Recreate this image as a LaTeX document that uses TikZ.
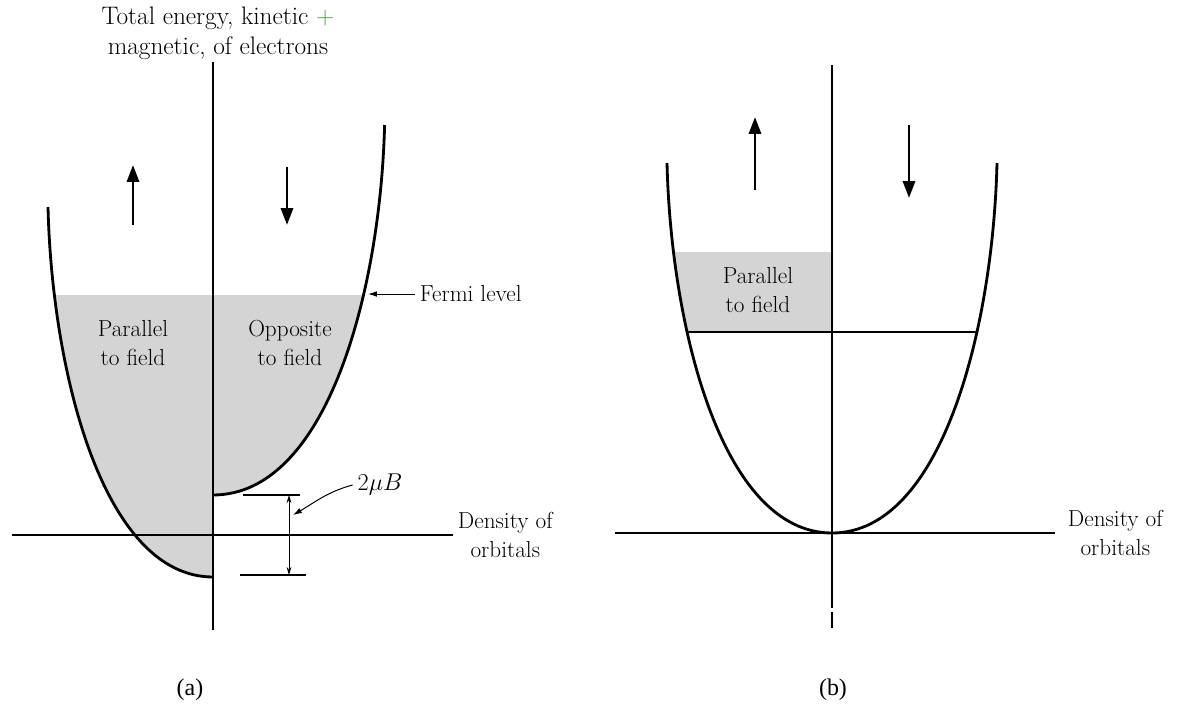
\documentclass[tikz,border=0pt]{standalone}
\usepackage{fontspec}
\newfontfamily\capfont{Liberation Serif}
\usepackage{xcolor}
\usepackage{tikz}
\usetikzlibrary{arrows.meta,positioning}
\definecolor{plusgreen}{RGB}{70,160,60}
% half of a band: (density, energy above the band bottom)
\newcommand{\bandpath}{(0,0) .. controls (110,0) and (161,205) .. (165,370)}

\begin{document}
\begin{tikzpicture}[
  x=0.025cm, y=-0.025cm,
  font=\fontsize{16.5}{20.5}\selectfont,
  axis/.style={line width=0.9pt},
  band/.style={line width=2pt},
  sea/.style={fill=black!17},
  spin/.style={line width=2pt,-{Triangle[length=0.42cm,width=0.3cm]}},
  tip/.style={line width=0.7pt,-{Latex[length=0.22cm,width=0.14cm]}},
  gap/.style={line width=0.7pt,{Stealth[length=0.2cm,width=0.12cm]}-{Stealth[length=0.2cm,width=0.12cm]}},
  lbl/.style={align=center}
]
\useasboundingbox (0,0) rectangle (1204,708);

% ---------- (a) ----------
\begin{scope}[shift={(213,577)},xscale=-1,yscale=-1]
  \begin{scope}
    \clip \bandpath -- (0,370) -- cycle;
    \fill[sea] (0,0) rectangle (200,282);
  \end{scope}
\end{scope}
\begin{scope}[shift={(213,495)},xscale=1.04,yscale=-1]
  \begin{scope}
    \clip \bandpath -- (0,370) -- cycle;
    \fill[sea] (0,0) rectangle (200,200);
  \end{scope}
\end{scope}

\coordinate (aTop) at (213,62);
\coordinate (aBot) at (213,630);
\coordinate (aLeft) at (12,535);
\coordinate (aRight) at (453,535);
\draw[axis] (aTop) -- (aBot);
\draw[axis] (aLeft) -- (aRight);

\begin{scope}[shift={(213,577)},xscale=-1,yscale=-1]
  \draw[band] \bandpath;
\end{scope}
\begin{scope}[shift={(213,495)},xscale=1.04,yscale=-1]
  \draw[band] \bandpath;
\end{scope}

\node[lbl,font=\fontsize{18}{21.3}\selectfont] (title) at (218,33)
  {Total energy, kinetic \textcolor{plusgreen}{+}\\magnetic, of electrons};

\draw[spin] (133,225) -- (133,165);
\draw[spin] (287,167) -- (287,225);

\node[lbl] (parA) at (133,343) {Parallel\\to field};
\node[lbl] (oppA) at (290,343) {Opposite\\to field};

\node[anchor=west] (fermi) at (415,294) {Fermi level};
\coordinate (fermiA) at (368,294);
\draw[tip] (fermi) -- (fermiA);

% spin splitting
\coordinate (gapTop) at (289,495);
\coordinate (gapBot) at (289,575);
\draw[axis] (243,495) -- (300,495);
\draw[axis] (240,575) -- (306,575);
\draw[gap] (gapTop) -- (gapBot);
\node (mub) at (380,485) {$2\mu B$};
\coordinate (mubTip) at (293,515);
\draw[tip] (mub.west) to[out=195,in=30] (mubTip);

\node[lbl,anchor=west] (dosA) at (aRight) {Density of\\orbitals};

% ---------- (b) ----------
\begin{scope}[shift={(832,533)},xscale=-1,yscale=-1]
  \begin{scope}
    \clip \bandpath -- (0,370) -- cycle;
    \fill[sea] (0,201) rectangle (200,281);
  \end{scope}
\end{scope}

\coordinate (bTop) at (832,65);
\coordinate (bBot) at (832,628);
\coordinate (bLeft) at (615,533);
\coordinate (bRight) at (1055,533);
\draw[axis] (bTop) -- (832,608);
\draw[axis] (832,612) -- (bBot);
\draw[axis] (bLeft) -- (bRight);

\coordinate (fbL) at (686,332);
\coordinate (fbR) at (978,332);
\draw[axis] (fbL) -- (fbR);

\begin{scope}[shift={(832,533)},xscale=-1,yscale=-1]
  \draw[band] \bandpath;
\end{scope}
\begin{scope}[shift={(832,533)},yscale=-1]
  \draw[band] \bandpath;
\end{scope}

\draw[spin] (755,190) -- (755,117);
\draw[spin] (909,125) -- (909,198);

\node[lbl] (parB) at (758,290) {Parallel\\to field};
\node[lbl,anchor=west,xshift=0.2cm] (dosB) at (bRight) {Density of\\orbitals};

% captions
\node[font={\capfont\fontsize{17}{20}\selectfont}] (capA) at (190,690) {(a)};
\node[font={\capfont\fontsize{17}{20}\selectfont}] (capB) at (833,690) {(b)};
\end{tikzpicture}
\end{document}
